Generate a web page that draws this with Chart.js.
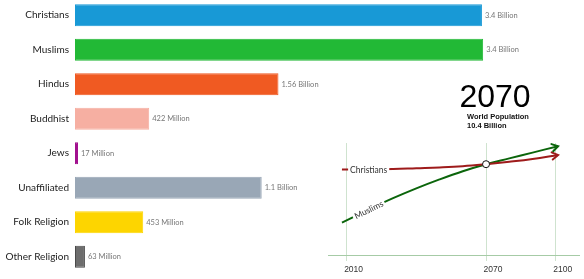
<!DOCTYPE html>
<html>
<head>
<meta charset="utf-8">
<script src="https://cdn.jsdelivr.net/npm/chart.js@4.4.1/dist/chart.umd.min.js"></script>
<style>
  html, body { margin: 0; padding: 0; background: #ffffff; }
  #wrap { position: relative; width: 584px; height: 279px; overflow: hidden; background: #fff; }
  #bars { position: absolute; left: 0; top: -2px; }
  #trend { position: absolute; left: 320px; top: 130px; }
  #year { position: absolute; left: 445px; top: 79px; width: 100px; text-align: center;
          font-family: "Liberation Sans", Arial, sans-serif; font-size: 32px; line-height: 34px; color: #000; }
  .sub { position: absolute; left: 467px; font-family: "Liberation Sans", Arial, sans-serif;
         font-weight: bold; font-size: 7.5px; color: #111; white-space: nowrap; }
</style>
</head>
<body>
<div id="wrap">
  <canvas id="bars" width="584" height="279"></canvas>
  <canvas id="trend" width="264" height="149"></canvas>
  <div id="year">2070</div>
  <div class="sub" style="top:112px">World Population</div>
  <div class="sub" style="top:121px">10.4 Billion</div>
</div>
<script>
// ---- bar race snapshot ----
const categories = ['Christians', 'Muslims', 'Hindus', 'Buddhist', 'Jews', 'Unaffiliated', 'Folk Religion', 'Other Religion'];
const barValues = [3.40, 3.41, 1.70, 0.62, 0.025, 1.56, 0.57, 0.083];
const valueLabels = ['3.4 Billion', '3.4 Billion', '1.56 Billion', '422 Million', '17 Million', '1.1 Billion', '453 Million', '63 Million'];
const barColors = ['#1899d6', '#22b936', '#f05a22', '#f6afa2', '#a2108f', '#99a7b6', '#fdd500', '#6d6d6d'];
const barBorders = ['#1899d6', '#22b936', '#f05a22', '#f6afa2', '#a2108f', '#99a7b6', '#fdd500', '#4a4a4a'];

// ---- trend inset ----
const years = [2008, 2020, 2030, 2040, 2050, 2060, 2070, 2080, 2090, 2101];
const christians = [2.14, 2.14, 2.15, 2.17, 2.19, 2.22, 2.27, 2.33, 2.40, 2.50];
const muslims = [0.81, 1.15, 1.42, 1.665, 1.89, 2.095, 2.27, 2.415, 2.56, 2.72];
const gridYears = [2010, 2070, 2100];
const currentYear = 2070;
const currentValue = 2.27;
const lineLabelYear = 2019.5;

const valueLabelPlugin = {
  id: 'valueLabels',
  afterDatasetsDraw(chart) {
    const ctx = chart.ctx;
    const meta = chart.getDatasetMeta(0);
    ctx.save();
    ctx.font = '7.5px Lato, "Open Sans", sans-serif';
    ctx.fillStyle = '#777777';
    ctx.textBaseline = 'middle';
    ctx.textAlign = 'left';
    meta.data.forEach((el, i) => {
      ctx.fillText(valueLabels[i], el.x + 3, el.y);
    });
    ctx.restore();
  }
};

new Chart(document.getElementById('bars'), {
  type: 'bar',
  data: {
    labels: categories,
    datasets: [{
      data: barValues,
      backgroundColor: barColors,
      borderColor: barBorders,
      borderWidth: 1,
      borderSkipped: false,
      barPercentage: 0.64,
      categoryPercentage: 1
    }]
  },
  options: {
    indexAxis: 'y',
    responsive: false,
    animation: false,
    layout: { padding: { left: 0, right: 6.3, top: 0, bottom: 3 } },
    plugins: { legend: { display: false }, tooltip: { enabled: false } },
    scales: {
      x: { display: false, min: 0, max: 4.2 },
      y: {
        grid: { display: false, drawTicks: false },
        border: { display: false },
        ticks: {
          padding: 6,
          color: '#222222',
          font: { family: 'Lato, "Open Sans", sans-serif', size: 10 }
        },
        afterFit(scale) { scale.width = 75; scale.paddingTop = 0; scale.paddingBottom = 0; }
      }
    }
  },
  plugins: [valueLabelPlugin]
});

function pointAtX(meta, px) {
  const pts = meta.data;
  for (let i = 0; i < pts.length - 1; i++) {
    if (px >= pts[i].x && px <= pts[i + 1].x) {
      const t = (px - pts[i].x) / (pts[i + 1].x - pts[i].x);
      return { y: pts[i].y + t * (pts[i + 1].y - pts[i].y),
               angle: Math.atan2(pts[i + 1].y - pts[i].y, pts[i + 1].x - pts[i].x) };
    }
  }
  return { y: pts[0].y, angle: 0 };
}

const decoPlugin = {
  id: 'deco',
  afterDatasetsDraw(chart) {
    const ctx = chart.ctx;
    const xs = chart.scales.x;
    [0, 1].forEach(di => {
      const ds = chart.data.datasets[di];
      const meta = chart.getDatasetMeta(di);
      const pts = meta.data;
      const a = pts[pts.length - 1], b = pts[pts.length - 2];
      const ang = Math.atan2(a.y - b.y, a.x - b.x);
      ctx.save();
      ctx.strokeStyle = ds.borderColor;
      ctx.lineWidth = 2;
      ctx.lineCap = 'round';
      ctx.beginPath();
      ctx.moveTo(a.x - 7 * Math.cos(ang - 0.55), a.y - 7 * Math.sin(ang - 0.55));
      ctx.lineTo(a.x, a.y);
      ctx.lineTo(a.x - 7 * Math.cos(ang + 0.55), a.y - 7 * Math.sin(ang + 0.55));
      ctx.stroke();
      ctx.restore();

      // inline line label
      const px = xs.getPixelForValue(lineLabelYear);
      const p = pointAtX(meta, px);
      ctx.save();
      ctx.translate(px, p.y);
      ctx.rotate(p.angle);
      ctx.font = '8.5px Lato, "Open Sans", sans-serif';
      const w = ctx.measureText(ds.label).width;
      ctx.fillStyle = '#ffffff';
      ctx.fillRect(-w / 2 - 2, -5, w + 4, 10);
      ctx.fillStyle = '#333333';
      ctx.textAlign = 'center';
      ctx.textBaseline = 'middle';
      ctx.fillText(ds.label, 0, 0.5);
      ctx.restore();
    });
    // intersection marker
    const cx = xs.getPixelForValue(currentYear);
    const cy = chart.scales.y.getPixelForValue(currentValue);
    ctx.save();
    ctx.beginPath();
    ctx.arc(cx, cy, 3.5, 0, Math.PI * 2);
    ctx.fillStyle = '#ffffff';
    ctx.fill();
    ctx.strokeStyle = '#111111';
    ctx.lineWidth = 1;
    ctx.stroke();
    ctx.restore();
  }
};

new Chart(document.getElementById('trend'), {
  type: 'line',
  data: {
    datasets: [
      { label: 'Christians', data: years.map((y, i) => ({ x: y, y: christians[i] })),
        borderColor: '#9e1b1b', borderWidth: 2, pointRadius: 0, tension: 0.4, fill: false },
      { label: 'Muslims', data: years.map((y, i) => ({ x: y, y: muslims[i] })),
        borderColor: '#0b650b', borderWidth: 2, pointRadius: 0, tension: 0.4, fill: false }
    ]
  },
  options: {
    responsive: false,
    animation: false,
    clip: false,
    layout: { padding: { left: 8, right: 5, top: 13, bottom: 0 } },
    plugins: { legend: { display: false }, tooltip: { enabled: false } },
    scales: {
      x: {
        type: 'linear', min: 2002, max: 2110,
        afterBuildTicks(scale) { scale.ticks = gridYears.map(v => ({ value: v })); },
        grid: { color: '#cfe3cf', lineWidth: 1, drawTicks: true, tickLength: 6, tickColor: '#cfe3cf' },
        border: { display: true, color: '#a6cba6', width: 1 },
        ticks: {
          callback: v => String(v),
          labelOffset: 7,
          padding: 4,
          color: '#333333',
          maxRotation: 0,
          font: { family: '"Liberation Sans", Arial, sans-serif', size: 8.5 }
        },
        afterFit(scale) { scale.height = 24; }
      },
      y: { display: false, min: 0, max: 2.8 }
    }
  },
  plugins: [decoPlugin]
});
</script>
</body>
</html>
